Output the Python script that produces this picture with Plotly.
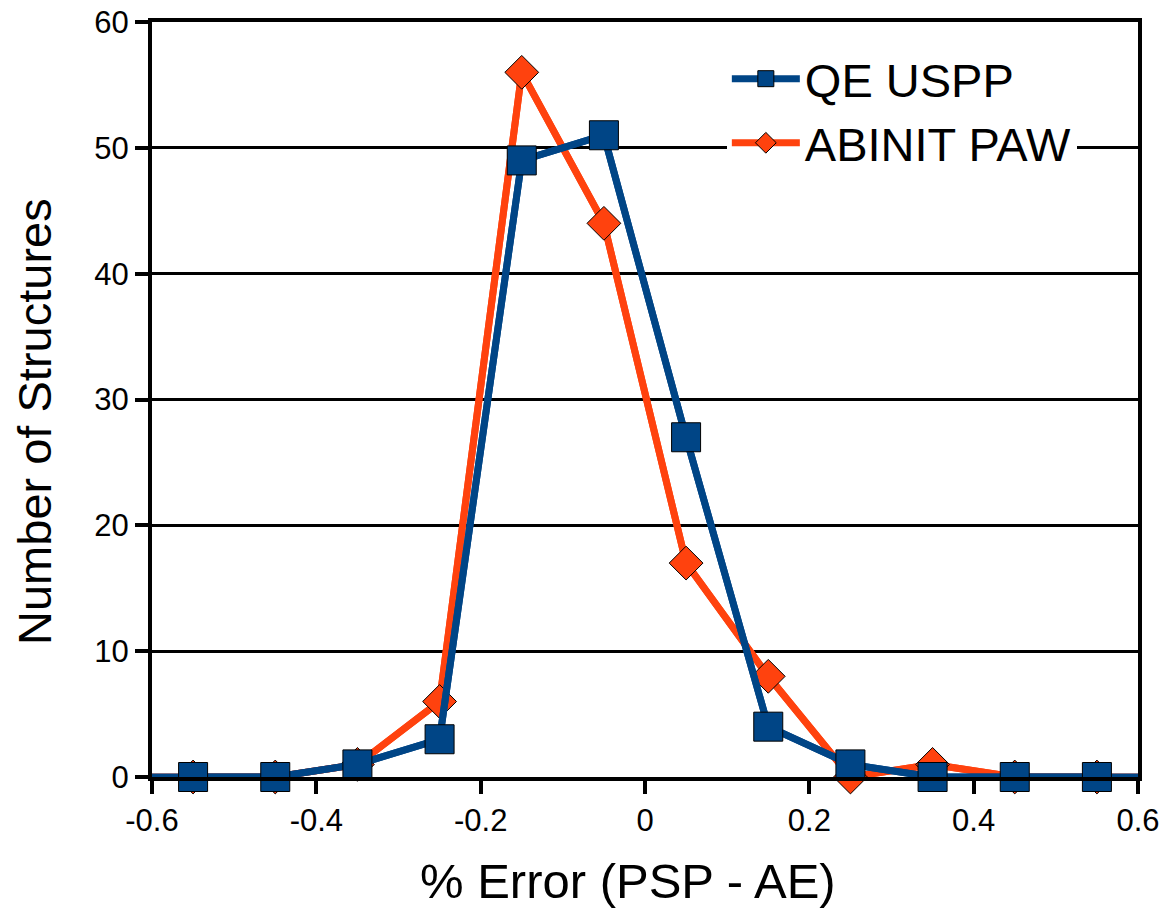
import plotly.graph_objects as go

x_vals = [-0.6, -0.55, -0.45, -0.35, -0.25, -0.15, -0.05, 0.05, 0.15, 0.25, 0.35, 0.45, 0.55, 0.6]
qe_uspp = [0, 0, 0, 1, 3, 49, 51, 27, 4, 1, 0, 0, 0, 0]
abinit_paw = [0, 0, 0, 1, 6, 56, 44, 17, 8, 0, 1, 0, 0, 0]
x_ticks = [-0.6, -0.4, -0.2, 0, 0.2, 0.4, 0.6]
x_ticklabels = ["-0.6", "-0.4", "-0.2", "0", "0.2", "0.4", "0.6"]
y_ticks = [0, 10, 20, 30, 40, 50, 60]
x_title = "% Error (PSP - AE)"
y_title = "Number of Structures"

BLUE = "#004586"
ORANGE = "#ff420e"
FONT = "Liberation Sans, Arial, sans-serif"

fig = go.Figure()

def add_series(name, ys, color, symbol, size, rank):
    # full line spanning the whole axis (no markers)
    fig.add_trace(go.Scatter(
        x=x_vals, y=ys, mode="lines", showlegend=False, hoverinfo="skip",
        line=dict(color=color, width=7), cliponaxis=False,
    ))
    # markers on the bin centres
    fig.add_trace(go.Scatter(
        x=x_vals[1:-1], y=ys[1:-1], name=name, mode="lines+markers",
        line=dict(color=color, width=7),
        marker=dict(symbol=symbol, size=size, color=color, opacity=1,
                    line=dict(color="black", width=1)),
        cliponaxis=False, legendrank=rank,
    ))

add_series("ABINIT PAW", abinit_paw, ORANGE, "diamond", 26, 2)
add_series("QE USPP", qe_uspp, BLUE, "square", 29, 1)

fig.update_layout(
    width=1176, height=915,
    margin=dict(l=152, r=38, t=22, b=138),
    paper_bgcolor="white", plot_bgcolor="white",
    font=dict(family=FONT, color="black", size=31),
    showlegend=True,
    legend=dict(x=0.583, y=0.974, xanchor="left", yanchor="top",
                bgcolor="white", borderwidth=0,
                font=dict(size=47, family=FONT, color="black"),
                itemwidth=68),
    xaxis=dict(range=[-0.6, 0.6], tickvals=x_ticks, ticktext=x_ticklabels,
               showgrid=False, zeroline=False, automargin=False,
               showline=True, linecolor="black", linewidth=4, mirror=True,
               ticks="outside", ticklen=13, tickwidth=4, tickcolor="black",
               tickfont=dict(size=31, family=FONT)),
    yaxis=dict(range=[0, 60], tickvals=y_ticks,
               showgrid=True, gridcolor="black", gridwidth=3, zeroline=False, automargin=False,
               showline=True, linecolor="black", linewidth=4, mirror=True,
               ticks="outside", ticklen=13, tickwidth=4, tickcolor="black",
               tickfont=dict(size=31, family=FONT)),
    annotations=[
        dict(text=x_title, xref="paper", yref="paper", x=0.4828, y=-0.1377,
             xanchor="center", yanchor="middle", showarrow=False,
             font=dict(size=49, family=FONT, color="black")),
        dict(text=y_title, xref="paper", yref="paper", x=-0.1197, y=0.4715,
             xanchor="center", yanchor="middle", textangle=-90, showarrow=False,
             font=dict(size=47, family=FONT, color="black")),
    ],
)

fig.write_html("out.html")
